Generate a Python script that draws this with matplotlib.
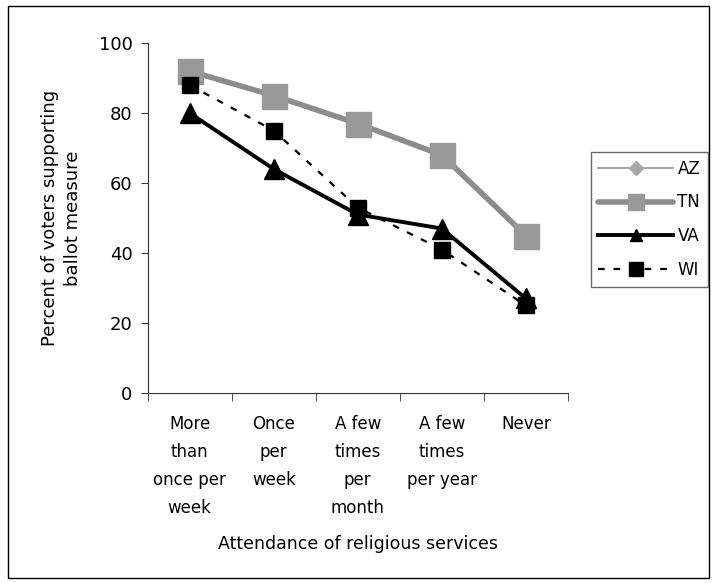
import matplotlib
matplotlib.use("Agg")
import matplotlib.pyplot as plt
from matplotlib.patches import Rectangle
from matplotlib.lines import Line2D

# data
categories = ["More\nthan\nonce per\nweek", "Once\nper\nweek", "A few\ntimes\nper\nmonth",
              "A few\ntimes\nper year", "Never"]
az = [92, 85, 77, 68, 45]
tn = [92, 85, 77, 68, 45]
va = [80, 64, 51, 47, 27]
wi = [88, 75, 53, 41, 25]
yticks = [0, 20, 40, 60, 80, 100]

plt.rcParams['font.family'] = ['DejaVu Sans']

fig = plt.figure(figsize=(7.17, 5.83), dpi=100)
ax = fig.add_axes([0.206, 0.326, 0.586, 0.600])

x = list(range(len(categories)))
ax.plot(x, az, color='#a6a6a6', lw=1.5, marker='D', ms=8, zorder=2)
ax.plot(x, tn, color='#8c8c8c', lw=4, marker='s', ms=18, mfc='#999999', mec='#999999',
        zorder=3, solid_capstyle='round')
ax.plot(x, va, color='black', lw=2.8, marker='^', ms=14, zorder=4)
ax.plot(x, wi, color='black', lw=1.6, ls=(0, (3, 4)), marker='s', ms=11, zorder=5)

ax.set_xlim(-0.5, len(categories) - 0.5)
ax.set_ylim(0, 100)
ax.set_yticks(yticks)
ax.tick_params(axis='y', labelsize=13, direction='out', length=5, color='#333333', pad=6)
ax.set_xticks(x)
ax.set_xticklabels(categories, fontsize=12, linespacing=1.72, va='top')
ax.tick_params(axis='x', length=0, pad=16)
# tick marks at category boundaries
ax.set_xticks([i - 0.5 for i in range(len(categories) + 1)], minor=True)
ax.tick_params(axis='x', which='minor', length=6, direction='out', color='#333333')

for s in ['top', 'right']:
    ax.spines[s].set_visible(False)
for s in ['left', 'bottom']:
    ax.spines[s].set_color('#333333')

ax.set_ylabel("Percent of voters supporting\nballot measure", fontsize=13, labelpad=12,
              linespacing=1.35)
fig.text(0.5, 0.058, "Attendance of religious services", fontsize=12.5, ha='center')

handles = [
    Line2D([], [], color='#a6a6a6', lw=1.5, marker='D', ms=7),
    Line2D([], [], color='#8c8c8c', lw=4, marker='s', ms=11, mfc='#999999', mec='#999999',
           solid_capstyle='round'),
    Line2D([], [], color='black', lw=2.8, marker='^', ms=9),
    Line2D([], [], color='black', lw=1.6, ls=(0, (3, 4)), marker='s', ms=10),
]
leg = fig.legend(handles, ['AZ', 'TN', 'VA', 'WI'], loc='upper left',
                 bbox_to_anchor=(0.824, 0.739), fontsize=12,
                 frameon=True, fancybox=False, edgecolor='#444444', handlelength=4.5,
                 labelspacing=0.95, borderpad=0.45, handletextpad=0.25, borderaxespad=0)
leg.get_frame().set_linewidth(1)

fig.patches.append(Rectangle((0.011, 0.009), 0.978, 0.981, transform=fig.transFigure,
                             fill=False, edgecolor='black', lw=1))

fig.savefig("out.png", dpi=100)
